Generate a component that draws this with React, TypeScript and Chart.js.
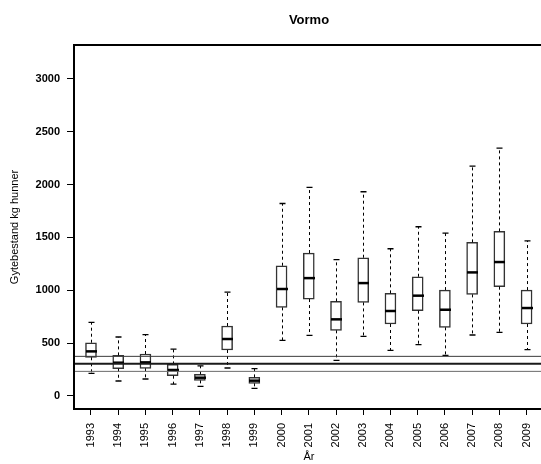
import React, { useEffect, useRef } from "react";
import { Chart, registerables } from "chart.js";

Chart.register(...registerables);

const years = ["1993","1994","1995","1996","1997","1998","1999","2000","2001","2002","2003","2004","2005","2006","2007","2008","2009"];
const whiskerLow = [214, 142, 161, 113, 91, 265, 72, 526, 574, 337, 564, 432, 485, 384, 577, 602, 438];
const q1 = [366, 258, 262, 192, 148, 435, 120, 838, 917, 621, 885, 681, 807, 649, 961, 1034, 681];
const median = [422, 315, 318, 246, 173, 539, 145, 1012, 1115, 725, 1068, 804, 949, 816, 1169, 1267, 832];
const q3 = [504, 384, 397, 299, 205, 662, 176, 1232, 1352, 895, 1308, 971, 1128, 1002, 1453, 1557, 1002];
const whiskerHigh = [696, 558, 580, 444, 284, 983, 258, 1821, 1973, 1289, 1932, 1393, 1601, 1541, 2174, 2344, 1468];
const refLines = [375, 305, 233];
const yTicks = [0, 500, 1000, 1500, 2000, 2500, 3000];

const FONT = "'Liberation Sans', Arial, Helvetica, sans-serif";

const boxPlugin = {
  id: "boxExtras",
  afterDatasetsDraw(chart: any) {
    const { ctx, chartArea, scales } = chart;
    const xs = scales.x;
    const ys = scales.y;
    ctx.save();
    for (let i = 0; i < years.length; i++) {
      const cx = Math.round(xs.getPixelForValue(i + 1)) + 0.5;
      const yLo = ys.getPixelForValue(whiskerLow[i]);
      const yQ1 = ys.getPixelForValue(q1[i]);
      const yQ3 = ys.getPixelForValue(q3[i]);
      const yHi = ys.getPixelForValue(whiskerHigh[i]);
      const yMed = ys.getPixelForValue(median[i]);
      ctx.strokeStyle = "#000";
      ctx.lineWidth = 1;
      ctx.setLineDash([3, 3]);
      ctx.beginPath();
      ctx.moveTo(cx, yQ3);
      ctx.lineTo(cx, yHi);
      ctx.moveTo(cx, yQ1);
      ctx.lineTo(cx, yLo);
      ctx.stroke();
      ctx.setLineDash([]);
      ctx.lineWidth = 1.3;
      ctx.beginPath();
      ctx.moveTo(cx - 3, yHi);
      ctx.lineTo(cx + 3, yHi);
      ctx.moveTo(cx - 3, yLo);
      ctx.lineTo(cx + 3, yLo);
      ctx.stroke();
      ctx.lineWidth = 2.5;
      ctx.beginPath();
      ctx.moveTo(cx - 5.5, yMed);
      ctx.lineTo(cx + 5.5, yMed);
      ctx.stroke();
    }
    const refStyles = [
      { c: "#3a3a3a", w: 1 },
      { c: "#1a1a1a", w: 1.8 },
      { c: "#6a6a6a", w: 1 },
    ];
    refLines.forEach((v, k) => {
      const y = ys.getPixelForValue(v);
      ctx.strokeStyle = refStyles[k].c;
      ctx.lineWidth = refStyles[k].w;
      ctx.beginPath();
      ctx.moveTo(chartArea.left, y);
      ctx.lineTo(chartArea.right, y);
      ctx.stroke();
    });
    ctx.restore();
  },
  afterDraw(chart: any) {
    const { ctx, chartArea } = chart;
    ctx.save();
    ctx.strokeStyle = "#000";
    ctx.lineWidth = 2;
    ctx.strokeRect(chartArea.left, chartArea.top, chartArea.right - chartArea.left, chartArea.bottom - chartArea.top);
    ctx.fillStyle = "#000";
    ctx.font = "bold 13px " + FONT;
    ctx.textAlign = "center";
    ctx.textBaseline = "middle";
    ctx.fillText("Vormo", (chartArea.left + chartArea.right) / 2, 20);
    ctx.restore();
  },
};

export default function App() {
  const ref = useRef<HTMLCanvasElement | null>(null);
  useEffect(() => {
    if (!ref.current) return;
    Chart.defaults.font.family = FONT;
    const chart = new Chart(ref.current, {
      type: "bar",
      data: {
        datasets: [
          {
            data: years.map((_, i) => ({ x: i + 1, y: [q1[i], q3[i]] })) as any,
            backgroundColor: "#ffffff",
            borderColor: "#333333",
            borderWidth: 1.5,
            borderSkipped: false,
            barThickness: 11,
          },
        ],
      },
      options: {
        animation: false,
        responsive: false,
        devicePixelRatio: 1,
        layout: { padding: { top: 45, right: 16, left: 0, bottom: 0 } },
        plugins: { legend: { display: false }, tooltip: { enabled: false }, title: { display: false } },
        scales: {
          x: {
            type: "linear",
            offset: false,
            min: 0.376,
            max: 17.64,
            afterBuildTicks: (s: any) => {
              s.ticks = years.map((_, i) => ({ value: i + 1 }));
            },
            afterFit: (s: any) => {
              s.height = 55;
            },
            ticks: {
              autoSkip: false,
              minRotation: 90,
              maxRotation: 90,
              padding: 8,
              color: "#000",
              font: { size: 11 },
              callback: (v: any) => years[Math.round(v) - 1] ?? "",
            },
            grid: { display: true, offset: false, drawOnChartArea: false, drawTicks: true, tickLength: 6, color: "#000", lineWidth: 1 },
            border: { display: false },
            title: { display: true, text: "År", color: "#000", font: { size: 11 }, padding: { top: 0, bottom: 0 } },
          },
          y: {
            type: "linear",
            min: -123,
            max: 3320,
            afterBuildTicks: (s: any) => {
              s.ticks = yTicks.map((v) => ({ value: v }));
            },
            afterFit: (s: any) => {
              s.width = 74;
            },
            ticks: { color: "#000", font: { size: 11, weight: "bold" }, padding: 7, callback: (v: any) => String(v) },
            grid: { display: true, drawOnChartArea: false, drawTicks: true, tickLength: 7, color: "#000", lineWidth: 1 },
            border: { display: false },
            title: { display: true, text: "Gytebestand kg hunner", color: "#000", font: { size: 11 }, padding: { top: 8, bottom: 0 } },
          },
        },
      },
      plugins: [boxPlugin],
    });
    return () => chart.destroy();
  }, []);
  return (
    <div style={{ position: "fixed", left: 0, top: 0, width: 541, height: 464, overflow: "hidden", background: "#fff" }}>
      <canvas ref={ref} width={560} height={464} style={{ display: "block" }} />
    </div>
  );
}
